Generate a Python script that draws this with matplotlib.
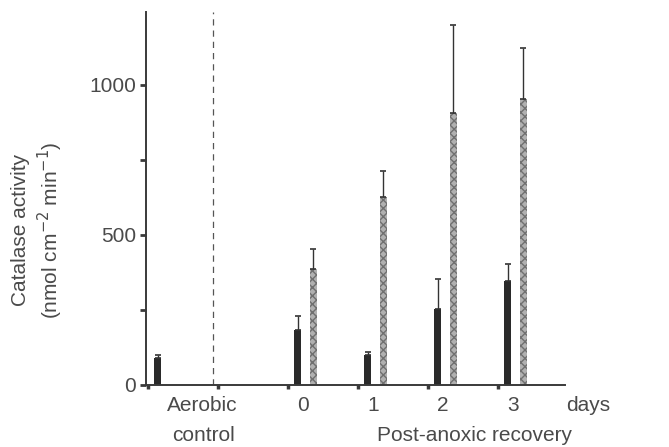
import numpy as np
import matplotlib.pyplot as plt

# data (nmol cm-2 min-1)
groups = ['Aerobic', '0', '1', '2', '3']
black_vals = [90, 183, 100, 253, 347]
black_err = [10, 47, 10, 100, 56]
gray_vals = [None, 387, 627, 907, 953]
gray_err = [None, 66, 86, 293, 170]
yticks = [0, 500, 1000]
yminor = [250, 750]

plt.rcParams['font.family'] = ['Liberation Sans', 'DejaVu Sans']
txt = '#4a4a4a'

fig = plt.figure(figsize=(6.69, 4.47), dpi=100)
ax = fig.add_axes([0.218, 0.139, 0.627, 0.834])

# group positions: aerobic at 0, days 0..3 at 2..5
pos = np.array([0, 2, 3, 4, 5])
bw = 0.1
ax.bar(pos + 0.14, black_vals, width=bw, color='#2a2a2a', linewidth=0)
ax.errorbar(pos + 0.14, black_vals, yerr=[np.zeros(5), black_err], fmt='none',
            ecolor='#333333', elinewidth=1, capsize=2, capthick=1.2)

gp = pos[1:] + 0.36
gv = gray_vals[1:]
ge = gray_err[1:]
ax.bar(gp, gv, width=bw, color='#b0b0b0', edgecolor='#707070', hatch='xxxx',
       linewidth=0)
ax.errorbar(gp, gv, yerr=[np.zeros(4), ge], fmt='none',
            ecolor='#333333', elinewidth=1, capsize=2, capthick=1.2)

# dashed separator
ax.axvline(0.93, color='#555555', linestyle=(0, (5, 4)), linewidth=0.9)

ax.set_xlim(-0.03, 5.96)
ax.set_ylim(0, 1243)
ax.spines['top'].set_visible(False)
ax.spines['right'].set_visible(False)
ax.spines['left'].set_color('#3a3a3a')
ax.spines['bottom'].set_color('#3a3a3a')
ax.spines['left'].set_linewidth(1.4)
ax.spines['bottom'].set_linewidth(1.4)

ax.set_yticks(yticks)
ax.set_yticklabels([str(v) for v in yticks], fontsize=15, color=txt)
ax.set_yticks(yminor, minor=True)
ax.tick_params(axis='y', which='both', direction='out', length=4, width=2,
               color='#3a3a3a', pad=3)

ax.set_xticks(np.arange(6))
ax.set_xticklabels([])
ax.tick_params(axis='x', direction='out', length=3, width=2.5, color='#3a3a3a')

# x labels
tf = dict(fontsize=15, color=txt, ha='center', va='center',
          transform=ax.get_xaxis_transform())
yrow1 = -0.055
yrow2 = -0.135
ax.text(0.77, yrow1, 'Aerobic', **tf)
ax.text(0.79, yrow2, 'control', **tf)
for p, g in zip(pos[1:], groups[1:]):
    ax.text(p + 0.21, yrow1, g, **tf)
ax.text(6.29, yrow1, 'days', clip_on=False, **tf)
ax.text(4.66, yrow2, 'Post-anoxic recovery', clip_on=False, **tf)

# y label, two lines
fig.text(0.030, 0.485, 'Catalase activity', rotation=90, fontsize=15,
         color=txt, ha='center', va='center')
fig.text(0.075, 0.485, '(nmol cm$^{-2}$ min$^{-1}$)', rotation=90, fontsize=15,
         color=txt, ha='center', va='center')

fig.savefig('out.png', dpi=100)
